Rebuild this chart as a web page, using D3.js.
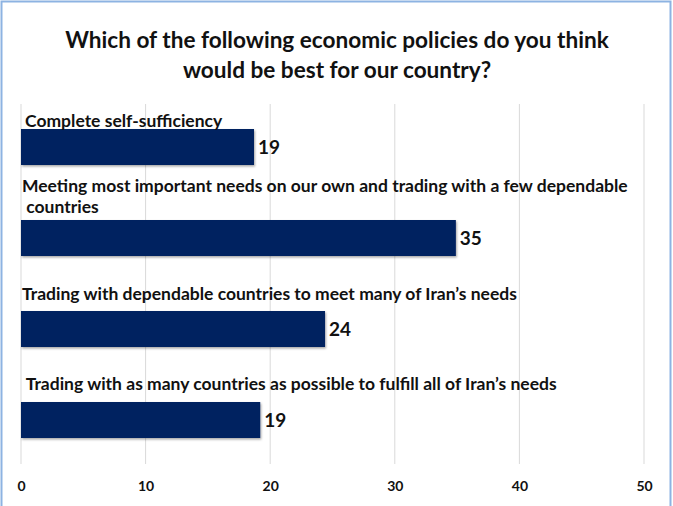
<!DOCTYPE html>
<html><head><meta charset="utf-8">
<script src="https://cdn.jsdelivr.net/npm/d3@7"></script>
<style>html,body{margin:0;padding:0;background:#fff;}svg{display:block;}text{font-family:Lato,"Open Sans",sans-serif;font-weight:bold;fill:#111;}</style>
</head><body>
<svg id="c" width="673" height="506"></svg>
<script>
const titleLines = ["Which of the following economic policies do you think", "would be best for our country?"];
const categories = [
  ["Complete self-sufficiency"],
  ["Meeting most important needs on our own and trading with a few dependable", " countries"],
  ["Trading with dependable countries to meet many of Iran\u2019s needs"],
  [" Trading with as many countries as possible to fulfill all of Iran\u2019s needs"]
];
const values = [18.7, 34.9, 24.4, 19.2];
const ticks = [0, 10, 20, 30, 40, 50];

const svg = d3.select("#c");
svg.append("rect").attr("x",1.5).attr("y",1.5).attr("width",669).attr("height",520)
  .attr("fill","none").attr("stroke","#8db3e2").attr("stroke-width",2);

const x = d3.scaleLinear().domain([0,50]).range([21,644]);
const y = d3.scaleBand().domain(d3.range(values.length)).range([107,471]).paddingInner(0).paddingOuter(0);

svg.selectAll(".title").data(titleLines).join("text")
  .attr("x",337).attr("y",(d,i)=>48+i*30).attr("text-anchor","middle")
  .style("font-size","22.6px").text(d=>d);

svg.append("g").selectAll("line").data(ticks).join("line")
  .attr("x1",d=>x(d)).attr("x2",d=>x(d)).attr("y1",104).attr("y2",464)
  .attr("stroke","#d9d9d9").attr("stroke-width",1);

const ax = svg.append("g").attr("transform","translate(0,481)")
  .call(d3.axisBottom(x).tickValues(ticks).tickSize(0).tickPadding(0));
ax.select(".domain").remove();
ax.selectAll("text").style("font-size","14px").style("font-family","Lato,sans-serif").style("font-weight","bold").attr("fill","#111").attr("dy","0.71em");

const barTops = values.map((v,i)=>y(i)+22);
const barH = 36;
const defs = svg.append("defs");
const f = defs.append("filter").attr("id","sh").attr("x","-5%").attr("y","-20%").attr("width","110%").attr("height","150%");
f.append("feDropShadow").attr("dx",1).attr("dy",1.5).attr("stdDeviation",1).attr("flood-color","#000").attr("flood-opacity",0.35);

svg.append("g").selectAll("rect").data(values).join("rect")
  .attr("x",x(0)).attr("y",(d,i)=>barTops[i]).attr("width",d=>x(d)-x(0)).attr("height",barH)
  .attr("fill","#002060").attr("filter","url(#sh)");

svg.append("g").selectAll("text").data(values).join("text")
  .attr("x",d=>x(d)+4).attr("y",(d,i)=>barTops[i]+barH/2).attr("dy","0.36em")
  .style("font-size","19px").text(d=>d3.format(".0f")(d));

const labelBase = [127, 192, 300, 390];
const lg = svg.append("g");
categories.forEach((lines,i)=>{
  lines.forEach((t,j)=>{
    lg.append("text").attr("x",i===0?25:22).attr("y",labelBase[i]+j*21)
      .style("font-size","17.5px").style("white-space","pre").text(t);
  });
});
</script>
</body></html>
